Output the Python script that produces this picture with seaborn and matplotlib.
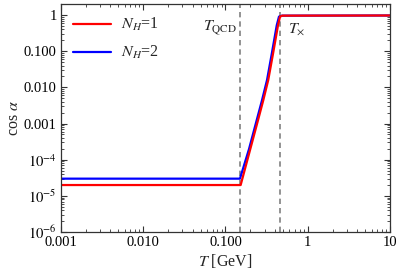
import numpy as np
import pandas as pd
import matplotlib
matplotlib.use("Agg")
import matplotlib.pyplot as plt
import seaborn as sns

T_red = [0.001, 0.153, 0.200, 0.250, 0.288, 0.331, 0.380, 0.435, 0.460, 0.490, 10.0]
cos_red = [2.0e-5, 2.0e-5, 1.95e-4, 1.3e-3, 4.4e-3, 0.016, 0.09, 0.52, 0.90, 0.96, 0.97]
T_blue = [0.001, 0.150, 0.193, 0.241, 0.278, 0.320, 0.367, 0.420, 0.447, 0.485, 10.0]
cos_blue = [3.0e-5, 3.0e-5, 1.95e-4, 1.3e-3, 4.4e-3, 0.016, 0.09, 0.52, 0.90, 0.96, 0.97]

T_qcd = 0.15
T_cross = 0.46

x_ticks = [0.001, 0.01, 0.1, 1, 10]
x_labels = ["0.001", "0.010", "0.100", "1", "10"]
y_ticks = [1e-6, 1e-5, 1e-4, 1e-3, 1e-2, 1e-1, 1]
y_labels = [r"$10^{-6}$", r"$10^{-5}$", r"$10^{-4}$", "0.001", "0.010", "0.100", "1"]

sns.set_style("ticks")
plt.rcParams["font.family"] = ["Liberation Serif", "DejaVu Serif"]
plt.rcParams["mathtext.fontset"] = "stix"
plt.rcParams["xtick.direction"] = "in"
plt.rcParams["ytick.direction"] = "in"

df = pd.concat([
    pd.DataFrame({"T": T_blue, "cos": cos_blue, "N": r"$N_H$=2"}),
    pd.DataFrame({"T": T_red, "cos": cos_red, "N": r"$N_H$=1"}),
])

fig = plt.figure(figsize=(3.98, 2.75), dpi=100)
ax = fig.add_axes([0.153, 0.156, 0.827, 0.829])

sns.lineplot(data=df, x="T", y="cos", hue="N", sort=False,
             palette={r"$N_H$=1": "#ff0000", r"$N_H$=2": "#0000ff"},
             hue_order=[r"$N_H$=2", r"$N_H$=1"], linewidth=1.6, ax=ax)

for xv in (T_qcd, T_cross):
    ax.axvline(xv, color="#808080", ls=(0, (3.2, 2.4)), lw=1.2, zorder=0)

ax.set_xscale("log")
ax.set_yscale("log")
ax.set_xlim(0.001, 10)
ax.set_ylim(1e-6, 2.0)
ax.set_xticks(x_ticks, x_labels)
ax.set_yticks(y_ticks, y_labels)
ax.xaxis.set_minor_locator(matplotlib.ticker.LogLocator(base=10, subs=np.arange(2, 10)))
ax.yaxis.set_minor_locator(matplotlib.ticker.LogLocator(base=10, subs=np.arange(2, 10)))
ax.xaxis.set_minor_formatter(matplotlib.ticker.NullFormatter())
ax.yaxis.set_minor_formatter(matplotlib.ticker.NullFormatter())
ax.tick_params(which="both", top=True, right=True, labelsize=10.5, colors="#333333",
               labelcolor="black")
ax.tick_params(which="major", length=4, width=0.8, pad=3)
ax.tick_params(which="minor", length=2, width=0.6)
for s in ax.spines.values():
    s.set_visible(True)
    s.set_color("#333333")
    s.set_linewidth(0.9)

ax.set_xlabel(r"$T$ [GeV]", fontsize=11.5, labelpad=2)
ax.set_ylabel(r"cos $\alpha$", fontsize=11.5, labelpad=1)

ax.text(0.138, 0.43, r"$T_{\rm QCD}$", fontsize=11.5, ha="right", va="center")
ax.text(0.58, 0.40, r"$T_{\times}$", fontsize=11.5, ha="left", va="center")

h, l = ax.get_legend_handles_labels()
ax.legend(h[::-1], l[::-1], loc="upper left", frameon=False, fontsize=11.5,
          handlelength=2.4, handletextpad=0.6, borderaxespad=0.35, labelspacing=0.7)

fig.savefig("out.png", dpi=100)
